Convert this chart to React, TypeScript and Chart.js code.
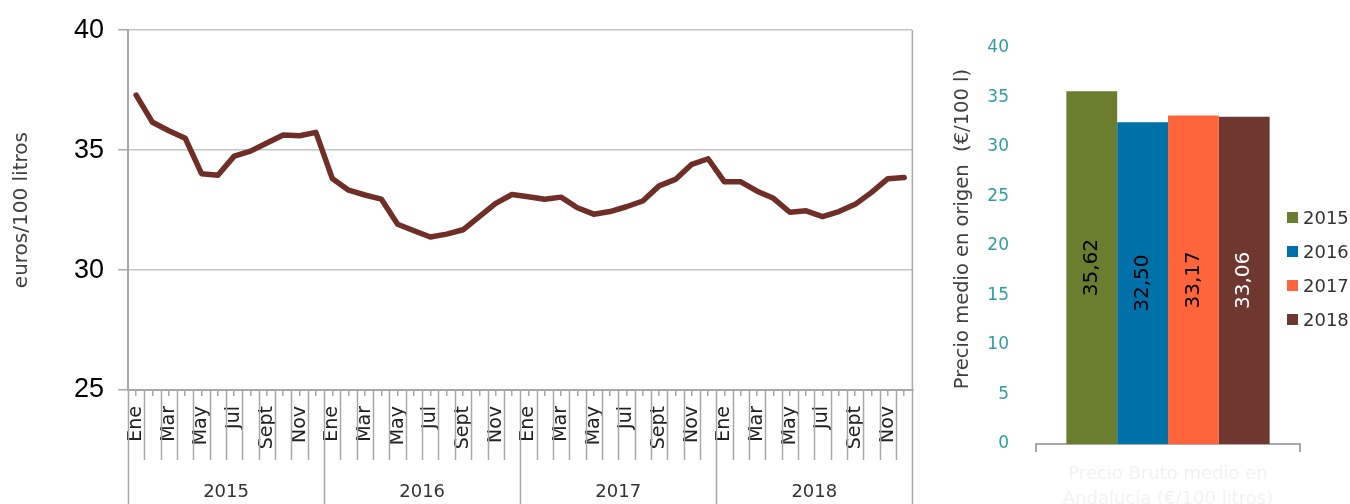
import React, { useEffect, useRef } from 'react';
import { Chart, registerables } from 'chart.js';

Chart.register(...registerables);

// ---------- data ----------
const monthNames = ['Ene', 'Feb', 'Mar', 'Abr', 'May', 'Jun', 'Jul', 'Ago', 'Sept', 'Oct', 'Nov', 'Dic'];
const years = ['2015', '2016', '2017', '2018'];

const price2015 = [37.29, 36.16, 35.81, 35.5, 34.02, 33.95, 34.75, 34.96, 35.3, 35.63, 35.6, 35.74];
const price2016 = [33.82, 33.33, 33.13, 32.96, 31.91, 31.64, 31.38, 31.5, 31.68, 32.23, 32.78, 33.15];
const price2017 = [33.06, 32.95, 33.04, 32.6, 32.33, 32.44, 32.64, 32.88, 33.51, 33.78, 34.41, 34.64];
const price2018 = [33.68, 33.68, 33.29, 32.99, 32.41, 32.47, 32.23, 32.44, 32.74, 33.24, 33.81, 33.86];

const yTicksLeft = [25, 30, 35, 40];
const yTicksRight = [0, 5, 10, 15, 20, 25, 30, 35, 40];

const annualAverages = [35.62, 32.5, 33.17, 33.06];
const barCategory = [['Precio Bruto medio en', 'Andalucía (€/100 litros)']];

const leftTitle = 'euros/100 litros';
const rightTitle = 'Precio medio en origen  (€/100 l)';

// ---------- styles ----------
const LINE_COLOR = '#6F2F27';
const BAR_COLORS = ['#6B7D2E', '#0070A8', '#FF653A', '#6E372F'];
const BAR_TEXT_COLORS = ['#000000', '#000000', '#000000', '#ffffff'];
const AXIS_GRAY = '#a8a8a8';
const GRID_GRAY = '#c6c6c6';
const FONT = '"DejaVu Sans", sans-serif';

const monthlyLabels = years.flatMap(() => monthNames);
const monthlyValues = [...price2015, ...price2016, ...price2017, ...price2018];

const leftFramePlugin = {
  id: 'leftFrame',
  afterDraw(chart: any) {
    const { ctx, chartArea } = chart;
    const xs = chart.scales.x;
    const ys = chart.scales.xYear;
    const n = monthlyLabels.length;
    ctx.save();
    ctx.strokeStyle = AXIS_GRAY;
    ctx.lineWidth = 1.5;
    for (let i = 0; i <= n; i++) {
      const px = Math.round(xs.getPixelForValue(i - 0.5)) + 0.5;
      const yearEdge = i % monthNames.length === 0;
      ctx.beginPath();
      ctx.moveTo(px, chartArea.bottom);
      ctx.lineTo(px, yearEdge ? ys.bottom : xs.bottom);
      ctx.stroke();
    }
    ctx.beginPath();
    ctx.moveTo(chartArea.right, chartArea.top);
    ctx.lineTo(chartArea.right, chartArea.bottom);
    ctx.stroke();
    ctx.restore();
  },
};

const barLabelPlugin = {
  id: 'barLabels',
  afterDatasetsDraw(chart: any) {
    const { ctx } = chart;
    chart.data.datasets.forEach((ds: any, di: number) => {
      const meta = chart.getDatasetMeta(di);
      meta.data.forEach((bar: any, i: number) => {
        const { x, y, base } = bar.getProps(['x', 'y', 'base'], true);
        const v = ds.data[i] as number;
        ctx.save();
        ctx.translate(x, (y + base) / 2);
        ctx.rotate(-Math.PI / 2);
        ctx.textAlign = 'center';
        ctx.textBaseline = 'middle';
        ctx.fillStyle = BAR_TEXT_COLORS[di];
        ctx.font = `20px ${FONT}`;
        ctx.fillText(v.toFixed(2).replace('.', ','), 0, 0);
        ctx.restore();
      });
    });
  },
};

// y-axis title of the bar chart, drawn slightly above the axis centre as in the original
const barTitlePlugin = {
  id: 'barTitle',
  afterDraw(chart: any) {
    const { ctx, chartArea } = chart;
    ctx.save();
    ctx.translate(33, (chartArea.top + chartArea.bottom) / 2 - 17);
    ctx.rotate(-Math.PI / 2);
    ctx.textAlign = 'center';
    ctx.textBaseline = 'middle';
    ctx.fillStyle = '#404040';
    ctx.font = `19.5px ${FONT}`;
    ctx.fillText(rightTitle, 0, 0);
    ctx.restore();
  },
};

function LineChart() {
  const ref = useRef<HTMLCanvasElement>(null);
  useEffect(() => {
    const chart = new Chart(ref.current as HTMLCanvasElement, {
      type: 'line',
      data: {
        labels: monthlyLabels,
        datasets: [
          {
            data: monthlyValues,
            borderColor: LINE_COLOR,
            borderWidth: 5.5,
            pointRadius: 0,
            tension: 0,
            borderJoinStyle: 'round',
            borderCapStyle: 'round',
            xAxisID: 'x',
          },
        ],
      },
      options: {
        responsive: false,
        animation: false,
        layout: { padding: { top: 27, left: 0, right: 0, bottom: 0 } },
        plugins: { legend: { display: false }, tooltip: { enabled: false } },
        scales: {
          x: {
            type: 'category',
            offset: true,
            grid: { display: true, offset: false, drawOnChartArea: false, tickLength: 6, color: AXIS_GRAY, lineWidth: 1.5 },
            border: { display: true, color: AXIS_GRAY, width: 2 },
            ticks: {
              autoSkip: false,
              minRotation: 90,
              maxRotation: 90,
              padding: 10,
              color: '#222',
              font: { family: FONT, size: 19 },
              callback: (_v: any, i: number) => (i % 2 === 0 ? monthlyLabels[i] : ''),
            },
            afterFit: (s: any) => {
              s.height = 70;
            },
          },
          xYear: {
            type: 'category',
            position: 'bottom',
            labels: years,
            offset: true,
            grid: { display: false },
            border: { display: false },
            ticks: { color: '#333', font: { family: FONT, size: 18 }, padding: 14, maxRotation: 0 },
            afterFit: (s: any) => {
              s.height = 44;
            },
          },
          y: {
            min: 25,
            max: 40,
            afterBuildTicks: (s: any) => {
              s.ticks = yTicksLeft.map((v) => ({ value: v }));
            },
            grid: { color: GRID_GRAY, lineWidth: 1.5, tickLength: 10, tickColor: AXIS_GRAY },
            border: { display: true, color: AXIS_GRAY, width: 2 },
            ticks: { color: '#000', font: { family: '"Liberation Sans", Arial, sans-serif', size: 27 }, padding: 14 },
            title: {
              display: true,
              text: leftTitle,
              color: '#404040',
              font: { family: FONT, size: 20 },
              padding: { top: 10, bottom: 0 },
            },
            afterFit: (s: any) => {
              s.width = 128;
            },
          },
        },
      },
      plugins: [leftFramePlugin],
    } as any);
    return () => chart.destroy();
  }, []);
  return <canvas ref={ref} width={937} height={504} />;
}

function BarChart() {
  const ref = useRef<HTMLCanvasElement>(null);
  useEffect(() => {
    const chart = new Chart(ref.current as HTMLCanvasElement, {
      type: 'bar',
      data: {
        labels: barCategory,
        datasets: years.map((yr, i) => ({
          label: yr,
          data: [annualAverages[i]],
          backgroundColor: BAR_COLORS[i],
          borderWidth: 0,
          barPercentage: 1,
          categoryPercentage: 0.77,
        })),
      },
      options: {
        responsive: false,
        animation: false,
        layout: { padding: { top: 48, left: 0, right: 50, bottom: 0 } },
        plugins: { legend: { display: false }, tooltip: { enabled: false } },
        scales: {
          x: {
            grid: { display: true, offset: true, drawOnChartArea: false, tickLength: 8, color: AXIS_GRAY, lineWidth: 2 },
            border: { display: true, color: AXIS_GRAY, width: 2 },
            ticks: { color: '#f2f2f2', font: { family: FONT, size: 18, lineHeight: 1.4 }, padding: 10, maxRotation: 0 },
            afterFit: (s: any) => {
              s.height = 60;
            },
          },
          y: {
            min: 0,
            max: 40,
            afterBuildTicks: (s: any) => {
              s.ticks = yTicksRight.map((v) => ({ value: v }));
            },
            grid: { display: false },
            border: { display: false },
            ticks: { color: '#2E9E9E', font: { family: FONT, size: 17 }, padding: 19 },
            title: { display: false, text: rightTitle },
            afterFit: (s: any) => {
              s.width = 106;
            },
          },
        },
      },
      plugins: [barLabelPlugin, barTitlePlugin],
    } as any);
    return () => chart.destroy();
  }, []);
  return <canvas ref={ref} width={420} height={504} />;
}

export default function App() {
  return (
    <div style={{ position: 'fixed', left: 0, top: 0, width: 1350, height: 504, background: '#fff', overflow: 'hidden' }}>
      <div style={{ position: 'absolute', left: 0, top: 0, width: 937, height: 504 }}>
        <LineChart />
      </div>
      <div style={{ position: 'absolute', left: 930, top: 0, width: 420, height: 504 }}>
        <BarChart />
      </div>
      <div style={{ position: 'absolute', left: 1287, top: 0 }}>
        {years.map((yr, i) => (
          <div
            key={yr}
            style={{
              position: 'absolute',
              left: 0,
              top: 205 + i * 34,
              display: 'flex',
              alignItems: 'center',
              height: 24,
              whiteSpace: 'nowrap',
              fontFamily: FONT,
              fontSize: 18,
              color: '#333',
            }}
          >
            <span style={{ display: 'inline-block', width: 11, height: 11, background: BAR_COLORS[i], marginRight: 5 }} />
            {yr}
          </div>
        ))}
      </div>
    </div>
  );
}
